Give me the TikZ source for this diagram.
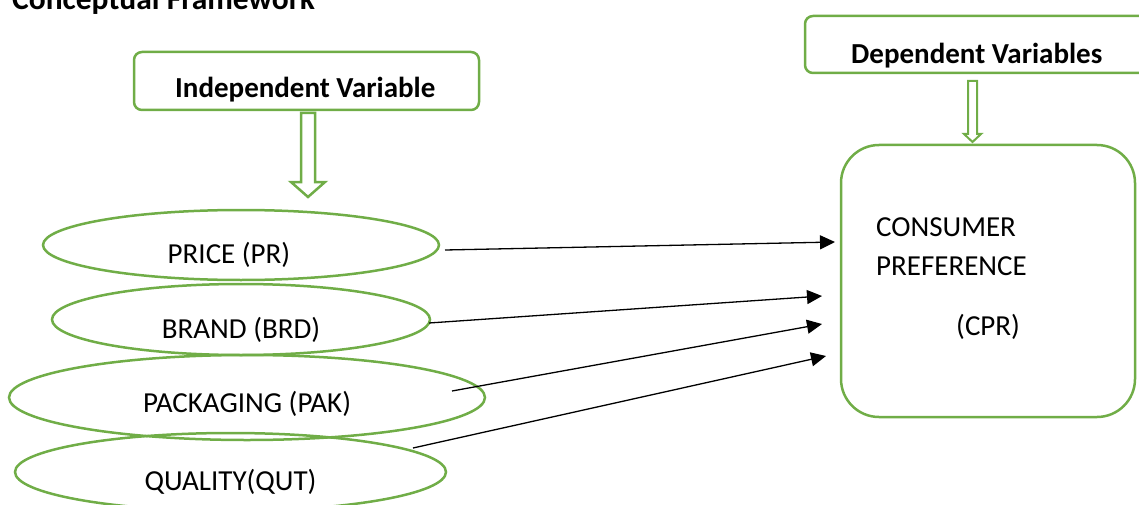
\documentclass[tikz,border=0pt]{standalone}
\usepackage{fontspec}
\setmainfont{Carlito}
\usetikzlibrary{shapes.geometric,arrows.meta}
\definecolor{grn}{HTML}{70AD47}
\tikzset{
  txt/.style={inner sep=0pt,font=\fontsize{29}{34}\selectfont},
  btxt/.style={inner sep=0pt,font=\fontsize{29}{34}\selectfont\bfseries},
  gbox/.style={draw=grn,line width=2.5pt,rounded corners=8pt},
  ell/.style={ellipse,draw=grn,line width=2.5pt,inner sep=0pt},
  conn/.style={line width=1.3pt,-{Triangle[length=15pt,width=14pt]}},
  hollow/.style={draw=grn,line width=2.5pt,line join=miter}
}
\begin{document}
\begin{tikzpicture}[x=1pt,y=-1pt]
\useasboundingbox (0,0) rectangle (1139,505);
% title
\node[inner sep=0pt,anchor=base west,font=\fontsize{31.5}{36}\selectfont\bfseries] (title) at (12,10) {Conceptual Framework};
% independent box
\draw[gbox] (134,52) rectangle (479,110);
\node[btxt,anchor=base west] (indep) at (175,98) {Independent Variable};
% hollow arrow
\draw[hollow] (301,113) -- (315,113) -- (315,182) -- (325,182) -- (308,197) -- (291,182) -- (301,182) -- cycle;
% dependent box
\draw[gbox] (805,16) rectangle (1160,73);
\node[btxt,anchor=base west] (dep) at (851,64) {Dependent Variables};
\draw[hollow,line width=2pt] (968,81) -- (977,81) -- (977,134) -- (981,134) -- (972.5,142) -- (964,134) -- (968,134) -- cycle;
% CPR box
\node[draw=grn,line width=2.5pt,rounded corners=38pt,minimum width=294pt,minimum height=272pt,inner sep=0pt] (cpr) at (988,281) {};
\node[txt,anchor=base west] (cpr1) at (876,236) {CONSUMER};
\node[txt,anchor=base west] (cpr2) at (876,275) {PREFERENCE};
\node[txt,anchor=base west] (cpr3) at (956,335) {(CPR)};
% ellipses
\node[ell,minimum width=396pt,minimum height=70pt] (pr) at (241,245) {};
\node[ell,minimum width=378pt,minimum height=71pt] (brd) at (241,319.5) {};
\node[ell,minimum width=476pt,minimum height=85pt] (pak) at (247,397.5) {};
\node[ell,minimum width=431pt,minimum height=78pt] (qut) at (230.5,472) {};
\node[txt,anchor=base] (prt) at (229,263) {PRICE (PR)};
\node[txt,anchor=base] (brdt) at (241,338) {BRAND (BRD)};
\node[txt,anchor=base] (pakt) at (247,412) {PACKAGING (PAK)};
\node[txt,anchor=base] (qutt) at (230.5,490) {QUALITY(QUT)};
% arrow coordinates
\coordinate (s1) at (445,250);
\coordinate (e1) at (835,242);
\coordinate (s2) at (429,323);
\coordinate (e2) at (822,296);
\coordinate (s3) at (452,391);
\coordinate (e3) at (822,324);
\coordinate (s4) at (413,448);
\coordinate (e4) at (826,356);
\draw[conn] (s1) -- (e1);
\draw[conn] (s2) -- (e2);
\draw[conn] (s3) -- (e3);
\draw[conn] (s4) -- (e4);
\end{tikzpicture}
\end{document}
